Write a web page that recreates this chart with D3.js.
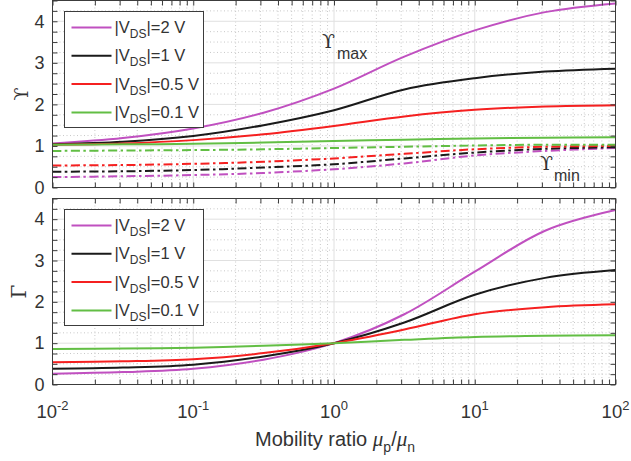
<!DOCTYPE html>
<html><head><meta charset="utf-8">
<script src="https://cdn.jsdelivr.net/npm/d3@7"></script>
<style>
html,body{margin:0;padding:0;background:#fff;}
svg{display:block;font-family:"Liberation Sans",Arial,Helvetica,sans-serif;}
</style></head>
<body><svg id="c" width="631" height="461"></svg>
<script>
// ---------------- data ----------------
const mobilityRatio = [0.01, 0.0316, 0.1, 0.316, 1, 3.16, 10, 31.6, 100];
const vdsLabels = ["2", "1", "0.5", "0.1"];
// Upsilon max (solid)
const upsMax2V  = [1.06, 1.19, 1.42, 1.80, 2.38, 3.15, 3.78, 4.22, 4.43];
const upsMax1V  = [1.04, 1.10, 1.24, 1.50, 1.86, 2.36, 2.63, 2.79, 2.86];
const upsMax05V = [1.03, 1.06, 1.14, 1.28, 1.48, 1.71, 1.87, 1.95, 1.98];
const upsMax01V = [1.03, 1.04, 1.05, 1.08, 1.12, 1.15, 1.18, 1.20, 1.21];
// Upsilon min (dash-dot)
const upsMin2V  = [0.25, 0.27, 0.30, 0.35, 0.44, 0.58, 0.77, 0.88, 0.95];
const upsMin1V  = [0.38, 0.39, 0.42, 0.48, 0.56, 0.70, 0.84, 0.93, 0.97];
const upsMin05V = [0.53, 0.54, 0.57, 0.62, 0.70, 0.81, 0.92, 0.98, 1.00];
const upsMin01V = [0.88, 0.89, 0.90, 0.92, 0.95, 0.98, 1.01, 1.03, 1.03];
// Gamma (solid)
const gamma2V  = [0.26, 0.30, 0.38, 0.60, 1.00, 1.70, 2.73, 3.72, 4.22];
const gamma1V  = [0.38, 0.41, 0.48, 0.68, 1.00, 1.50, 2.17, 2.58, 2.77];
const gamma05V = [0.54, 0.56, 0.61, 0.76, 1.00, 1.33, 1.70, 1.87, 1.94];
const gamma01V = [0.86, 0.87, 0.89, 0.94, 1.00, 1.08, 1.15, 1.18, 1.19];
const yTicks = [0, 1, 2, 3, 4];
const xTickExp = ["-2", "-1", "0", "1", "2"];
const xTicks = [0.01, 0.1, 1, 10, 100];
const colors = ["#c050c0", "#1a1a1a", "#f52020", "#62be44"];

// ---------------- layout ----------------
const svg = d3.select("#c");
const X0 = 52.5, X1 = 615.5;
const x = d3.scaleLog().domain([0.01, 100]).range([X0, X1]);
const panels = [
  {top: 0.5, bottom: 187.5, label: "\u03D2",
   solid: [upsMax2V, upsMax1V, upsMax05V, upsMax01V],
   dashed: [upsMin2V, upsMin1V, upsMin05V, upsMin01V], xlabels: false},
  {top: 198.5, bottom: 384.5, label: "\u0393",
   solid: [gamma2V, gamma1V, gamma05V, gamma01V], dashed: null, xlabels: true}
];
const minorX = [];
for (let d = -2; d < 2; d++) for (let m = 2; m <= 9; m++) minorX.push(m * Math.pow(10, d));
const minorY = d3.range(0, 4.51, 0.25).filter(v => Math.abs(v - Math.round(v)) > 1e-6);
const textCol = "#333";
const axisCol = "#3c3c3c";

panels.forEach((p, pi) => {
  const y = d3.scaleLinear().domain([0, 4.5]).range([p.bottom, p.top]);
  const g = svg.append("g");
  // grid
  const grid = g.append("g");
  grid.selectAll(".mx").data(minorX).join("line")
    .attr("x1", d => x(d)).attr("x2", d => x(d)).attr("y1", p.top).attr("y2", p.bottom)
    .attr("stroke", "#c8c8c8").attr("stroke-width", 1).attr("stroke-dasharray", "1,2.5");
  grid.selectAll(".my").data(minorY).join("line")
    .attr("y1", d => y(d)).attr("y2", d => y(d)).attr("x1", X0).attr("x2", X1)
    .attr("stroke", "#c8c8c8").attr("stroke-width", 1).attr("stroke-dasharray", "1,2.5");
  grid.selectAll(".Mx").data(xTicks).join("line")
    .attr("x1", d => x(d)).attr("x2", d => x(d)).attr("y1", p.top).attr("y2", p.bottom)
    .attr("stroke", "#e0e0e0").attr("stroke-width", 1);
  grid.selectAll(".My").data(yTicks).join("line")
    .attr("y1", d => y(d)).attr("y2", d => y(d)).attr("x1", X0).attr("x2", X1)
    .attr("stroke", "#e0e0e0").attr("stroke-width", 1);

  // clip
  const cid = "clip" + pi;
  svg.append("clipPath").attr("id", cid).append("rect")
    .attr("x", X0).attr("y", p.top).attr("width", X1 - X0).attr("height", p.bottom - p.top);
  const lines = g.append("g").attr("clip-path", `url(#${cid})`);
  const line = d3.line().x((d, i) => x(mobilityRatio[i])).y(d => y(d)).curve(d3.curveCatmullRom.alpha(0.5));
  if (p.dashed) {
    p.dashed.forEach((s, i) => {
      lines.append("path").attr("d", line(s)).attr("fill", "none")
        .attr("stroke", colors[i]).attr("stroke-width", 2)
        .attr("stroke-dasharray", "9,3.5,2.5,3.5");
    });
  }
  p.solid.forEach((s, i) => {
    lines.append("path").attr("d", line(s)).attr("fill", "none")
      .attr("stroke", colors[i]).attr("stroke-width", 2);
  });

  // axes (inward ticks)
  const styleAxis = sel => { sel.select(".domain").remove(); sel.selectAll("line").attr("stroke", axisCol); sel.selectAll("text").attr("fill", textCol); };
  const tl = 5;
  g.append("g").attr("transform", `translate(${X0},0)`)
    .call(d3.axisLeft(y).tickValues(yTicks).tickSize(-tl).tickPadding(8).tickFormat(d3.format("d")))
    .call(styleAxis).selectAll("text").attr("font-size", 18).attr("font-family", "Liberation Sans, Arial, sans-serif");
  g.append("g").attr("transform", `translate(${X0},0)`)
    .call(d3.axisLeft(y).tickValues(minorY).tickSize(-tl).tickFormat("")).call(styleAxis);
  g.append("g").attr("transform", `translate(${X1},0)`)
    .call(d3.axisRight(y).tickValues(yTicks.concat(minorY)).tickSize(-tl).tickFormat("")).call(styleAxis);
  g.append("g").attr("transform", `translate(0,${p.top})`)
    .call(d3.axisTop(x).tickValues(xTicks.concat(minorX)).tickSize(-tl).tickFormat("")).call(styleAxis);
  g.append("g").attr("transform", `translate(0,${p.bottom})`)
    .call(d3.axisBottom(x).tickValues(xTicks.concat(minorX)).tickSize(-tl).tickFormat("")).call(styleAxis);
  if (p.xlabels) {
    const lab = g.append("g").selectAll("text").data(xTicks).join("text")
      .attr("x", d => x(d)).attr("y", p.bottom + 33).attr("text-anchor", "middle")
      .attr("fill", textCol).attr("font-size", 18.5);
    lab.append("tspan").text("10");
    lab.append("tspan").attr("dy", -8).attr("font-size", 13).text((d, i) => xTickExp[i]);
  }
  // frame
  g.append("rect").attr("x", X0).attr("y", p.top).attr("width", X1 - X0).attr("height", p.bottom - p.top)
    .attr("fill", "none").attr("stroke", axisCol).attr("stroke-width", 1);

  // y label
  g.append("text").attr("transform", `translate(${pi === 0 ? 28 : 26},${(p.top + p.bottom) / 2}) rotate(-90)`)
    .attr("text-anchor", "middle").attr("font-family", "DejaVu Serif, Liberation Serif, serif")
    .attr("font-size", pi === 0 ? 19 : 20).attr("fill", textCol).text(p.label);

  // legend
  const lx = 64.5, ly = p.top + 11, lw = 139, lh = 116;
  const lg = g.append("g");
  lg.append("rect").attr("x", lx).attr("y", ly).attr("width", lw).attr("height", lh)
    .attr("fill", "#fff").attr("stroke", axisCol).attr("stroke-width", 1);
  vdsLabels.forEach((v, i) => {
    const yy = ly + 16 + i * 28.3;
    lg.append("line").attr("x1", lx + 7).attr("x2", lx + 47).attr("y1", yy).attr("y2", yy)
      .attr("stroke", colors[i]).attr("stroke-width", 2);
    const t = lg.append("text").attr("x", lx + 50).attr("y", yy + 5.5).attr("font-size", 16.5).attr("fill", textCol);
    t.append("tspan").text("|V");
    t.append("tspan").attr("dy", 5).attr("font-size", 12).text("DS");
    t.append("tspan").attr("dy", -5).text(`|=${v} V`);
  });
});

// annotations
const ann = svg.append("g").attr("fill", textCol);
ann.append("text").attr("x", 322).attr("y", 48).attr("font-family", "DejaVu Serif, Liberation Serif, serif").attr("font-size", 19).text("\u03D2");
ann.append("text").attr("x", 337).attr("y", 59).attr("font-size", 16).text("max");
ann.append("text").attr("x", 540).attr("y", 170).attr("font-family", "DejaVu Serif, Liberation Serif, serif").attr("font-size", 19).text("\u03D2");
ann.append("text").attr("x", 554).attr("y", 181).attr("font-size", 16).text("min");

// x label
const xl = svg.append("text").attr("x", (X0 + X1) / 2 + 1).attr("y", 446).attr("text-anchor", "middle")
  .attr("font-size", 20).attr("fill", textCol);
xl.append("tspan").text("Mobility ratio ");
xl.append("tspan").attr("font-family", "Liberation Serif, serif").attr("font-style", "italic").attr("font-size", 21).text("\u03BC");
xl.append("tspan").attr("dy", 6).attr("font-size", 14).text("p");
xl.append("tspan").attr("dy", -6).text("/");
xl.append("tspan").attr("font-family", "Liberation Serif, serif").attr("font-style", "italic").attr("font-size", 21).text("\u03BC");
xl.append("tspan").attr("dy", 6).attr("font-size", 14).text("n");
</script></body></html>
